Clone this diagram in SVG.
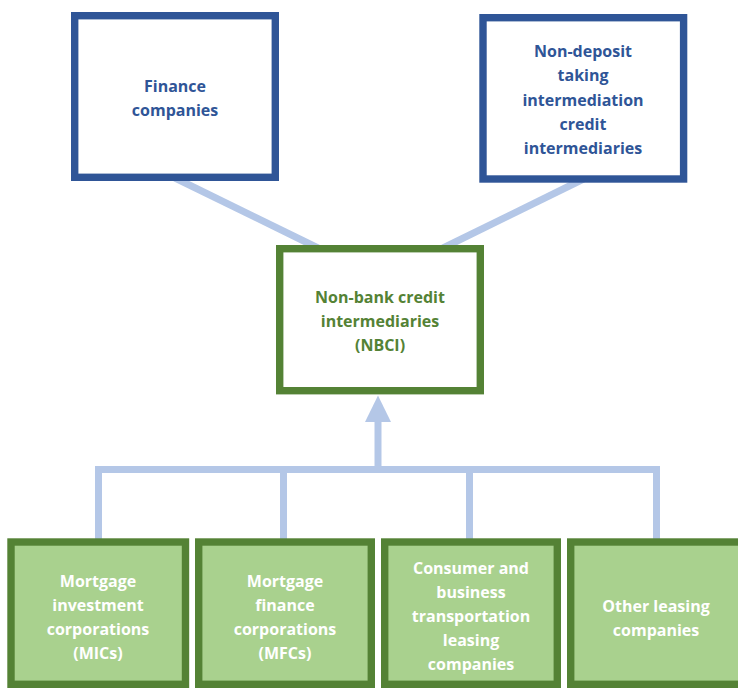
<svg xmlns="http://www.w3.org/2000/svg" width="738" height="688" viewBox="0 0 738 688">
<style>
.top{fill:#FFFFFF;stroke:#2F5597;stroke-width:7.4}
.mid{fill:#FFFFFF;stroke:#548235;stroke-width:7.4}
.bot{fill:#A9D18E;stroke:#548235;stroke-width:7.4}
.conn{fill:none;stroke:#B4C7E7;stroke-width:7}
text{font-family:"Open Sans","Noto Sans","Liberation Sans",sans-serif;font-weight:700;font-size:16px;text-anchor:middle}
.tb{fill:#2F5597}
.tg{fill:#548235}
.tw{fill:#FFFFFF}
</style>
<rect width="738" height="688" fill="#FFFFFF"/>
<g id="connectors">
<line class="conn" x1="175" y1="178" x2="318" y2="248"/>
<line class="conn" x1="583.5" y1="179" x2="443" y2="248"/>
<path class="conn" d="M98.5,542 V469.5 H656.5 V542" stroke-linejoin="miter" stroke-linecap="butt"/>
<line class="conn" x1="283.5" y1="469.5" x2="283.5" y2="542"/>
<line class="conn" x1="469.5" y1="469.5" x2="469.5" y2="542"/>
<line class="conn" x1="378" y1="470" x2="378" y2="418"/>
<polygon points="378,395.5 391,422 365,422" fill="#B4C7E7"/>
</g>
<g id="finance-companies">
<rect class="top" x="74.7" y="15.7" width="200.6" height="161.6"/>
<text class="tb" x="175" y="92">Finance</text>
<text class="tb" x="175" y="115.5">companies</text>
</g>
<g id="non-deposit">
<rect class="top" x="483" y="17.7" width="200.6" height="161.3"/>
<text class="tb" x="583" y="57">Non-deposit</text>
<text class="tb" x="583" y="81.2">taking</text>
<text class="tb" x="583" y="105.5">intermediation</text>
<text class="tb" x="583" y="129.7">credit</text>
<text class="tb" x="583" y="154">intermediaries</text>
</g>
<g id="nbci">
<rect class="mid" x="279.7" y="248.7" width="200.6" height="142"/>
<text class="tg" x="380" y="303">Non-bank credit</text>
<text class="tg" x="380" y="327">intermediaries</text>
<text class="tg" x="380" y="351">(NBCI)</text>
</g>
<g id="mics">
<rect class="bot" x="11" y="542" width="174.5" height="142.3"/>
<text class="tw" x="98" y="587">Mortgage</text>
<text class="tw" x="98" y="611">investment</text>
<text class="tw" x="98" y="635">corporations</text>
<text class="tw" x="98" y="659">(MICs)</text>
</g>
<g id="mfcs">
<rect class="bot" x="198.7" y="542" width="172.6" height="142.3"/>
<text class="tw" x="285" y="587">Mortgage</text>
<text class="tw" x="285" y="611">finance</text>
<text class="tw" x="285" y="635">corporations</text>
<text class="tw" x="285" y="659">(MFCs)</text>
</g>
<g id="transport-leasing">
<rect class="bot" x="384.7" y="542" width="172.6" height="142.3"/>
<text class="tw" x="471" y="573.5">Consumer and</text>
<text class="tw" x="471" y="597.7">business</text>
<text class="tw" x="471" y="621.9">transportation</text>
<text class="tw" x="471" y="646.1">leasing</text>
<text class="tw" x="471" y="670.3">companies</text>
</g>
<g id="other-leasing">
<rect class="bot" x="570.7" y="542" width="174" height="142.3"/>
<text class="tw" x="656" y="611.5">Other leasing</text>
<text class="tw" x="656" y="635.5">companies</text>
</g>
</svg>
